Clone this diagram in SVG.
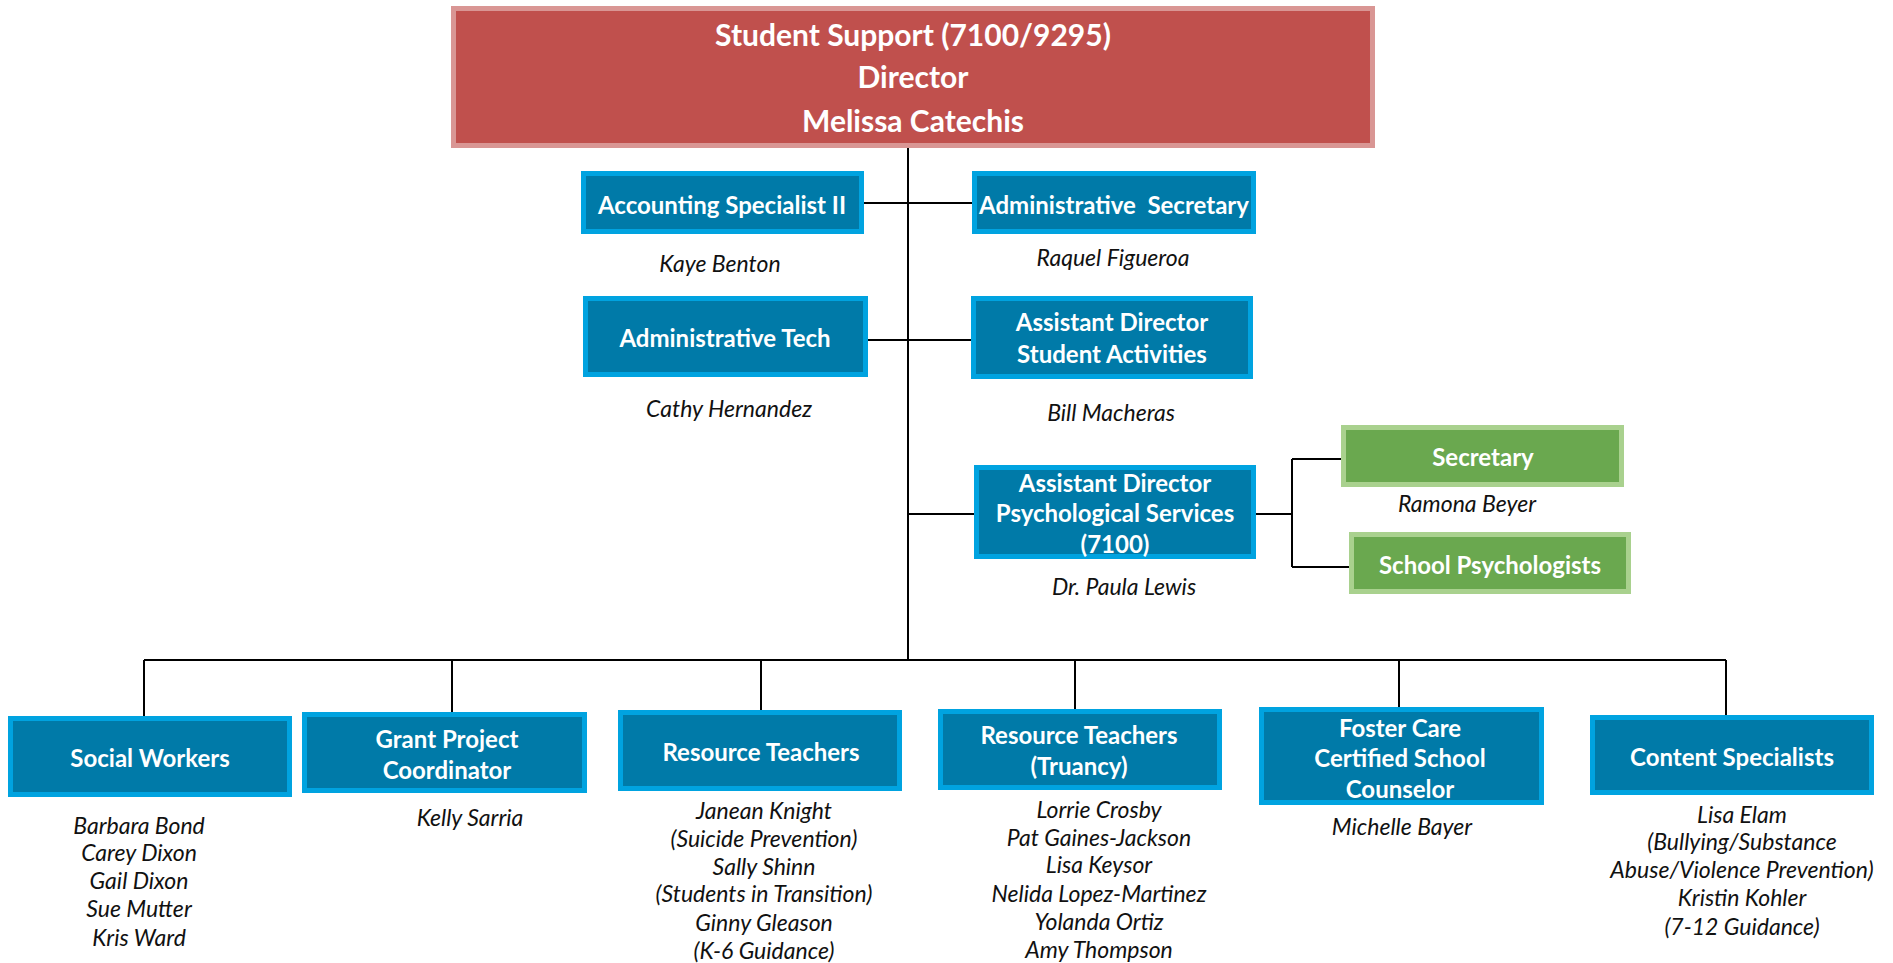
<svg xmlns="http://www.w3.org/2000/svg" width="1893" height="963" viewBox="0 0 1893 963">
<style>
.bg{fill:#ffffff}
.top{fill:#c0504d;stroke:#d99694;stroke-width:5}
.blue{fill:#007aa8;stroke:#00a3e0;stroke-width:5}
.green{fill:#6aa84f;stroke:#a9d18e;stroke-width:5}
.t{font-family:Lato,"Liberation Sans",sans-serif;font-weight:bold;fill:#ffffff;text-anchor:middle;dominant-baseline:central}
.tt{font-size:30px}
.bt{font-size:24px}
.n{font-family:Lato,"Liberation Sans",sans-serif;font-style:italic;font-size:23px;fill:#111111;text-anchor:middle;dominant-baseline:central}
.c{stroke:#000000;stroke-width:2;fill:none}
</style>
<rect class="bg" x="0" y="0" width="1893" height="963"/>
<g id="connectors">
<path class="c" d="M908 148 V660"/>
<path class="c" d="M864 203 H972"/>
<path class="c" d="M868 340 H971"/>
<path class="c" d="M908 514 H974"/>
<path class="c" d="M1256 514 H1292 M1292 459 V567 M1292 459 H1341 M1292 567 H1349"/>
<path class="c" d="M144 660 H1726 M144 660 V716 M452 660 V712 M761 660 V710 M1075 660 V709 M1399 660 V707 M1726 660 V715"/>
</g>
<g id="director">
<rect class="top" x="453.5" y="8.5" width="919" height="137"/>
<text class="t tt" x="913" y="34">Student Support (7100/9295)</text>
<text class="t tt" x="913" y="76">Director</text>
<text class="t tt" x="913" y="120">Melissa Catechis</text>
</g>
<g id="accounting">
<rect class="blue" x="583.5" y="173.5" width="278" height="58"/>
<text class="t bt" x="722" y="204">Accounting Specialist II</text>
<text class="n" x="720" y="263">Kaye Benton</text>
</g>
<g id="admin-secretary">
<rect class="blue" x="974.5" y="173.5" width="279" height="58"/>
<text class="t bt" x="1114" y="204" xml:space="preserve">Administrative  Secretary</text>
<text class="n" x="1113" y="257">Raquel Figueroa</text>
</g>
<g id="admin-tech">
<rect class="blue" x="585.5" y="298.5" width="280" height="76"/>
<text class="t bt" x="725" y="337">Administrative Tech</text>
<text class="n" x="729" y="408">Cathy Hernandez</text>
</g>
<g id="ad-student-activities">
<rect class="blue" x="973.5" y="298.5" width="277" height="78"/>
<text class="t bt" x="1112" y="321">Assistant Director</text>
<text class="t bt" x="1112" y="353">Student Activities</text>
<text class="n" x="1111" y="412">Bill Macheras</text>
</g>
<g id="ad-psych">
<rect class="blue" x="976.5" y="467.5" width="277" height="89"/>
<text class="t bt" x="1115" y="482">Assistant Director</text>
<text class="t bt" x="1115" y="512">Psychological Services</text>
<text class="t bt" x="1115" y="543">(7100)</text>
<text class="n" x="1124" y="586">Dr. Paula Lewis</text>
</g>
<g id="secretary">
<rect class="green" x="1343.5" y="427.5" width="278" height="57"/>
<text class="t bt" x="1483" y="456">Secretary</text>
<text class="n" x="1467" y="503">Ramona Beyer</text>
</g>
<g id="school-psych">
<rect class="green" x="1351.5" y="534.5" width="277" height="57"/>
<text class="t bt" x="1490" y="564">School Psychologists</text>
</g>
<g id="social-workers">
<rect class="blue" x="10.5" y="718.5" width="279" height="76"/>
<text class="t bt" x="150" y="757">Social Workers</text>
<text class="n" x="139" y="825">Barbara Bond</text>
<text class="n" x="139" y="852">Carey Dixon</text>
<text class="n" x="139" y="880">Gail Dixon</text>
<text class="n" x="139" y="908">Sue Mutter</text>
<text class="n" x="139" y="937">Kris Ward</text>
</g>
<g id="grant">
<rect class="blue" x="304.5" y="714.5" width="280" height="76"/>
<text class="t bt" x="447" y="738">Grant Project</text>
<text class="t bt" x="447" y="769">Coordinator</text>
<text class="n" x="470" y="817">Kelly Sarria</text>
</g>
<g id="resource-teachers">
<rect class="blue" x="620.5" y="712.5" width="279" height="76"/>
<text class="t bt" x="761" y="751">Resource Teachers</text>
<text class="n" x="764" y="810">Janean Knight</text>
<text class="n" x="764" y="838">(Suicide Prevention)</text>
<text class="n" x="764" y="866">Sally Shinn</text>
<text class="n" x="764" y="893">(Students in Transition)</text>
<text class="n" x="764" y="922">Ginny Gleason</text>
<text class="n" x="764" y="950">(K-6 Guidance)</text>
</g>
<g id="resource-truancy">
<rect class="blue" x="940.5" y="711.5" width="279" height="76"/>
<text class="t bt" x="1079" y="734">Resource Teachers</text>
<text class="t bt" x="1079" y="765">(Truancy)</text>
<text class="n" x="1099" y="809">Lorrie Crosby</text>
<text class="n" x="1099" y="837">Pat Gaines-Jackson</text>
<text class="n" x="1099" y="864">Lisa Keysor</text>
<text class="n" x="1099" y="893">Nelida Lopez-Martinez</text>
<text class="n" x="1099" y="921">Yolanda Ortiz</text>
<text class="n" x="1099" y="949">Amy Thompson</text>
</g>
<g id="foster-care">
<rect class="blue" x="1261.5" y="709.5" width="280" height="93"/>
<text class="t bt" x="1400" y="727">Foster Care</text>
<text class="t bt" x="1400" y="757">Certified School</text>
<text class="t bt" x="1400" y="788">Counselor</text>
<text class="n" x="1402" y="826">Michelle Bayer</text>
</g>
<g id="content-specialists">
<rect class="blue" x="1592.5" y="717.5" width="279" height="75"/>
<text class="t bt" x="1732" y="756">Content Specialists</text>
<text class="n" x="1742" y="814">Lisa Elam</text>
<text class="n" x="1742" y="841">(Bullying/Substance</text>
<text class="n" x="1742" y="869">Abuse/Violence Prevention)</text>
<text class="n" x="1742" y="897">Kristin Kohler</text>
<text class="n" x="1742" y="926">(7-12 Guidance)</text>
</g>
</svg>
